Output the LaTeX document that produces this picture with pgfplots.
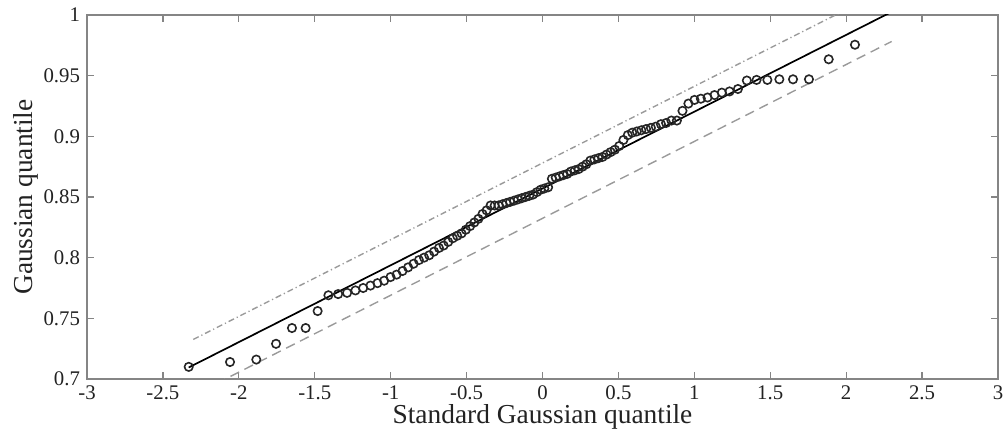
\documentclass[border=0pt]{standalone}
\usepackage{fontspec}
\setmainfont{Liberation Serif}
\usepackage{pgfplots}
\usepackage{pgfplotstable}
\pgfplotsset{compat=1.18}
\definecolor{boxgray}{HTML}{858585}
\definecolor{bandgray}{HTML}{9A9A9A}
\definecolor{txt}{HTML}{222222}
\pgfplotstableread{
x y
-2.330 0.710
-2.058 0.714
-1.885 0.716
-1.755 0.729
-1.650 0.742
-1.560 0.742
-1.481 0.756
-1.410 0.769
-1.346 0.770
-1.287 0.771
-1.232 0.773
-1.181 0.775
-1.133 0.777
-1.087 0.779
-1.043 0.781
-1.001 0.784
-0.961 0.786
-0.922 0.789
-0.885 0.792
-0.849 0.795
-0.814 0.798
-0.780 0.800
-0.746 0.802
-0.714 0.805
-0.682 0.808
-0.651 0.810
-0.621 0.813
-0.591 0.816
-0.562 0.818
-0.533 0.820
-0.505 0.823
-0.477 0.826
-0.449 0.829
-0.422 0.832
-0.395 0.836
-0.368 0.839
-0.342 0.843
-0.315 0.843
-0.289 0.843
-0.264 0.844
-0.238 0.845
-0.213 0.846
-0.187 0.847
-0.162 0.848
-0.137 0.849
-0.112 0.850
-0.087 0.851
-0.062 0.852
-0.037 0.854
-0.012 0.856
0.012 0.857
0.037 0.858
0.062 0.865
0.087 0.866
0.112 0.867
0.137 0.868
0.162 0.869
0.187 0.871
0.213 0.872
0.238 0.873
0.264 0.875
0.289 0.877
0.315 0.880
0.342 0.881
0.368 0.882
0.395 0.883
0.422 0.885
0.449 0.887
0.477 0.889
0.505 0.892
0.533 0.897
0.562 0.901
0.591 0.903
0.621 0.904
0.651 0.905
0.682 0.906
0.714 0.907
0.746 0.908
0.780 0.910
0.814 0.911
0.849 0.913
0.885 0.913
0.922 0.921
0.961 0.927
1.001 0.930
1.043 0.931
1.087 0.932
1.133 0.934
1.181 0.936
1.232 0.937
1.287 0.939
1.346 0.946
1.410 0.9465
1.481 0.9465
1.560 0.947
1.650 0.947
1.755 0.947
1.885 0.9635
2.058 0.9755
}\qqdata
\begin{document}
\begin{tikzpicture}
\useasboundingbox (-43.5pt,-29pt) rectangle (459.5pt,189.5pt);
\begin{axis}[
  at={(0,0)}, anchor=south west,
  width=455.5pt, height=182pt, scale only axis,
  xmin=-3, xmax=3, ymin=0.7, ymax=1,
  xtick={-3,-2.5,-2,-1.5,-1,-0.5,0,0.5,1,1.5,2,2.5,3},
  ytick={0.7,0.75,0.8,0.85,0.9,0.95,1},
  /pgf/number format/assume math mode=true,
  ticklabel style={font=\fontsize{10.4}{12}\selectfont, text=txt},
  label style={font=\fontsize{13.7}{16}\selectfont, text=txt},
  axis line style={boxgray, line width=0.6pt},
  major tick length=3.5pt,
  tick style={boxgray, line width=0.6pt},
  xlabel={Standard Gaussian quantile},
  ylabel={Gaussian quantile},
  xlabel style={at={(axis description cs:0.5,-0.1236)}, anchor=base},
  ylabel style={at={(axis description cs:-0.067,0.5)}, anchor=center},
  clip=true,
]
\addplot[bandgray, line width=0.7pt, dash pattern=on 3pt off 1.5pt on 0.6pt off 1.5pt] coordinates {(-2.30,0.7326) (2.33,1.0253)};
\addplot[bandgray, line width=0.7pt, dash pattern=on 4.8pt off 3pt] coordinates {(-2.33,0.6847) (2.30,0.9782)};
\addplot[black, line width=0.85pt] coordinates {(-2.33,0.7095) (2.33,1.0045)};
\addplot[only marks, mark=o, mark size=2.1pt, mark options={black!85, line width=0.8pt}] table[x=x,y=y] {\qqdata};
\end{axis}
\end{tikzpicture}
\end{document}
